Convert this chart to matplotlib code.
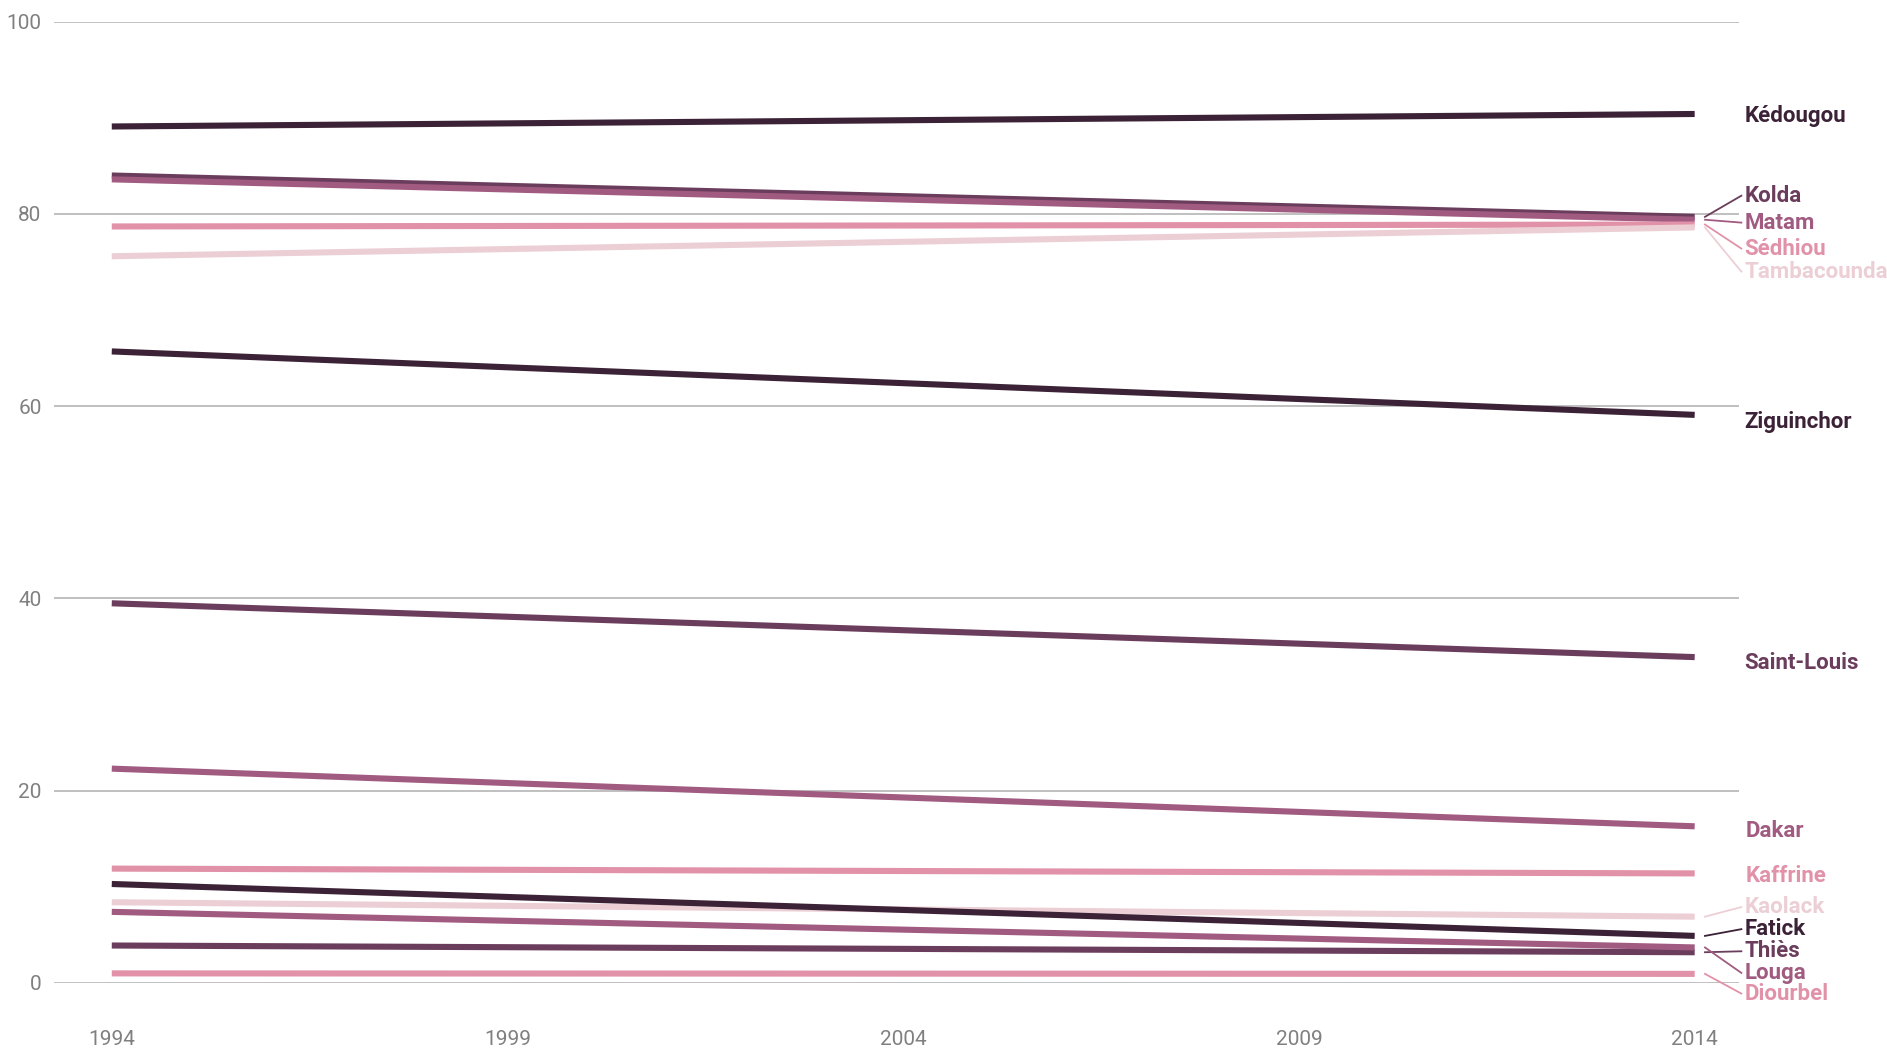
import matplotlib
matplotlib.use("Agg")
import matplotlib.pyplot as plt
from matplotlib import font_manager

years = [1994, 2014]
regions = ["Kédougou", "Kolda", "Matam", "Sédhiou", "Tambacounda", "Ziguinchor",
           "Saint-Louis", "Dakar", "Kaffrine", "Kaolack", "Fatick", "Thiès",
           "Louga", "Diourbel"]
start_values = [89.1, 84.0, 83.6, 78.7, 75.6, 65.7, 39.5, 22.3, 11.9, 8.4, 10.3, 3.9, 7.4, 1.0]
end_values = [90.4, 79.7, 79.4, 78.9, 78.6, 59.1, 33.9, 16.3, 11.4, 6.9, 4.9, 3.2, 3.7, 0.95]
label_values = [90.2, 81.9, 79.1, 76.4, 74.0, 58.4, 33.3, 15.8, 11.1, 7.9, 5.6, 3.3, 1.05, -1.1]
leader = [False, True, True, True, True, False, False, False, False, True, True, True, True, True]

c1, c2, c3, c4, c5 = "#3b2236", "#6b3d5c", "#a15b80", "#e192a8", "#eccfd5"
colors = [c1, c2, c3, c4, c5, c1, c2, c3, c4, c5, c1, c2, c3, c4]

yticks = [0, 20, 40, 60, 80, 100]
xticks = [1994, 1999, 2004, 2009, 2014]

avail = {f.name for f in font_manager.fontManager.ttflist}
narrow = "Liberation Sans Narrow" if "Liberation Sans Narrow" in avail else "Roboto"
plt.rcParams["font.family"] = [narrow, "DejaVu Sans"]

fig = plt.figure(figsize=(18.87, 10.48), dpi=100)
ax = fig.add_axes([54 / 1887, (1048 - 983) / 1048, (1739 - 54) / 1887, (983 - 21.7) / 1048])
ax.set_xlim(1993.27, 2014.56)
ax.set_ylim(0, 100)

for y in yticks:
    ax.axhline(y, color="#b5b5b5", lw=1.2, zorder=1)

for i in range(len(regions)):
    ax.plot(years, [start_values[i], end_values[i]], color=colors[i], lw=4.4,
            solid_capstyle="butt", zorder=3, clip_on=False)

for i, name in enumerate(regions):
    lx = 2014.63 if name not in ("Dakar", "Kaffrine") else 2014.65
    if leader[i]:
        ax.plot([2014.13, 2014.59], [end_values[i], label_values[i]], color=colors[i],
                lw=1.3, clip_on=False, zorder=3)
    ax.text(lx, label_values[i], name, color=colors[i], fontsize=16, fontweight="bold",
            ha="left", va="center", clip_on=False)

ax.set_yticks(yticks)
ax.set_yticklabels([str(v) for v in yticks])
ax.set_xticks(xticks)
ax.set_xticklabels([str(v) for v in xticks])
ax.tick_params(axis="both", length=0, colors="#808080", labelsize=15)
ax.tick_params(axis="y", pad=9)
ax.tick_params(axis="x", pad=34)
for s in ax.spines.values():
    s.set_visible(False)

fig.savefig("out.png", dpi=100)
